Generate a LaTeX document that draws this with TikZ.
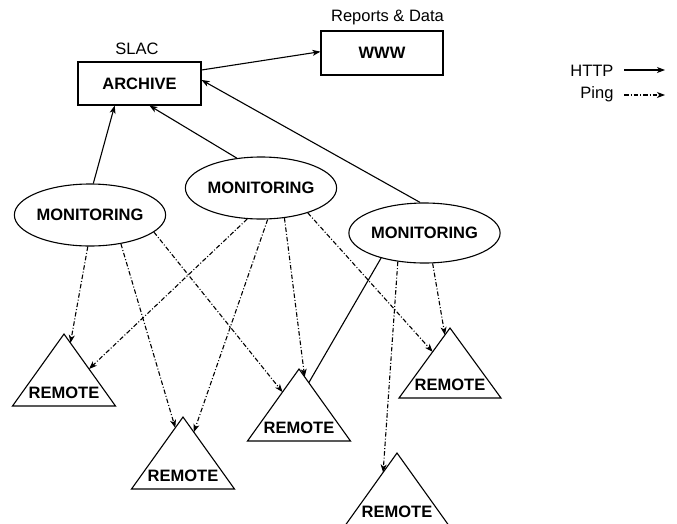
\documentclass[tikz,border=0pt]{standalone}
\usepackage{fontspec}
\setmainfont{Liberation Sans}
\usetikzlibrary{arrows.meta,calc,shapes.geometric}

\begin{document}
\begin{tikzpicture}[x=1pt,y=-1pt,
  line width=1.1pt,
  every node/.style={font=\fontsize{16.5}{18}\selectfont, inner sep=0pt},
  boxnode/.style={draw, rectangle, minimum width=123pt, minimum height=43pt, font=\fontsize{16.5}{18}\selectfont\bfseries},
  mon/.style={draw, ellipse, minimum width=122pt, minimum height=62pt, font=\fontsize{16.5}{18}\selectfont\bfseries},
  remotetxt/.style={font=\fontsize{16.5}{18}\selectfont\bfseries},
  tip/.style={-{Stealth[length=8pt,width=6pt,inset=2.2pt]}},
  http/.style={tip},
  ping/.style={tip, dash pattern=on 4.5pt off 2pt on 1pt off 2pt},
]
\useasboundingbox (0,0) rectangle (677,523);

% servers
\node[boxnode] (arch) at (139.5,83.5) {ARCHIVE};
\node (slac) at (137,49) {SLAC};
\node[boxnode, minimum width=122pt, minimum height=44pt] (www) at (382,53) {WWW};
\node (rep) at (387.5,17) {Reports \& Data};

% monitoring hosts
\node[mon] (m1) at (90,215) {MONITORING};
\node[mon] (m2) at (261,188) {MONITORING};
\node[mon, minimum width=123pt, minimum height=60pt] (m3) at (424.5,233) {MONITORING};

% remote hosts: name / apex x / apex y / half width / height
\foreach \n/\ax/\ay/\hw/\h in {r1/64/334/51.5/72, r2/183/417/51.5/72, r3/299/369/51.5/72, r4/450/328/51/70, r5/397/453/51.5/72}{
  \coordinate (\n-a) at (\ax,\ay);
  \coordinate (\n-l) at (\ax-\hw,\ay+\h);
  \coordinate (\n-r) at (\ax+\hw,\ay+\h);
  \draw[line join=miter] (\n-l) -- (\n-a) -- (\n-r) -- cycle;
  \node[remotetxt] (\n) at (\ax,\ay+\h-13) {REMOTE};
}

% HTTP uploads
\draw[http] (arch.east |- 0,70) -- ($(www.north west)!0.47!(www.south west)$);
\draw[http] (m1.84.5) -- ($(arch.south west)!0.3!(arch.south east)$);
\draw[http] (m2.129) -- ($(arch.south west)!0.58!(arch.south east)$);
\draw[http] (m3.98.5) -- ($(arch.north east)!0.42!(arch.south east)$);

% pings
\draw[ping] (m1.-94) -- ($(r1-a)!0.125!(r1-r)$);
\draw[ping] (m1.-43) -- ($(r2-a)!0.15!(r2-l)$);
\draw[ping] (m1.-15.3) -- ($(r3-a)!0.32!(r3-l)$);
\draw[ping] (m2.-114) -- ($(r1-a)!0.486!(r1-r)$);
\draw[ping] (m2.-78) -- ($(r2-a)!0.21!(r2-r)$);
\draw[ping] (m2.-52.5) -- ($(r3-a)!0.11!(r3-r)$);
\draw[ping] (m2.-28.7) -- ($(r4-a)!0.34!(r4-l)$);
\draw[ping] (m3.-133.5) -- ($(r5-a)!0.27!(r5-l)$);
\draw[ping] (m3.-75) -- ($(r4-a)!0.1!(r4-l)$);
\draw (m3.-150) -- ($(r3-a)!0.19!(r3-r)$);

% legend
\node[anchor=east] (lh) at (614,71) {HTTP};
\node[anchor=east] (lp) at (614,94) {Ping};
\draw[http] ([xshift=10pt]lh.east |- 0,70) -- ([xshift=51pt]lh.east |- 0,70);
\draw[ping] ([xshift=10pt]lp.east |- 0,95) -- ([xshift=51pt]lp.east |- 0,95);
\end{tikzpicture}
\end{document}
